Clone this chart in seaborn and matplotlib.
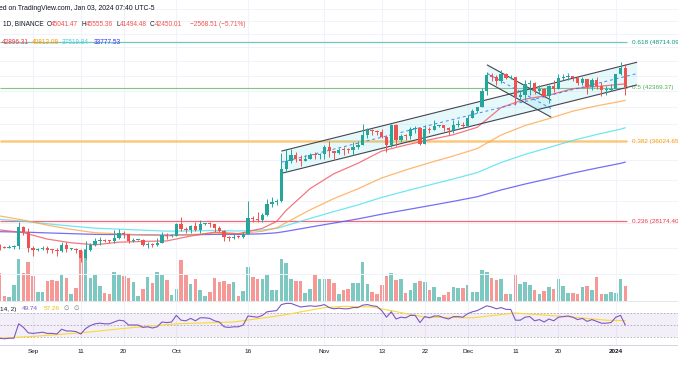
import pandas as pd
import numpy as np
import matplotlib
matplotlib.use("Agg")
import matplotlib.pyplot as plt
import matplotlib.dates as mdates
import seaborn as sns

W, H = 678, 381

# daily candles, BINANCE 1D
dates = pd.date_range("2023-08-25", "2024-01-03", freq="D")
opens = [26170, 26050, 26010, 26090, 26100, 27720, 27300,
         25940, 25800, 25870, 25970, 25820, 25790, 25750, 26240, 25900, 25900, 25840, 25160, 25840, 26230, 26530,
         26610, 26570, 26530, 26760, 27210, 27130, 26570, 26580, 26580, 26250, 26300, 26210, 26350, 27030, 26910,
         26970, 27990, 27500, 27430, 27790, 27410, 27930, 27950, 27920, 27590, 27390, 26870, 26760, 26860, 26850,
         27150, 28500, 28400, 28320, 28710, 29680, 29910, 29990, 33070, 33920, 34500, 34150, 33890, 34080, 34520, 34480,
         34640, 35420, 34940, 34720, 35080, 35050, 35040, 35420, 35620, 36700, 37310, 37130, 37060, 36490, 35550,
         37880, 36160, 36600, 36570, 37360, 37450, 35750, 37420, 37290, 37720, 37800, 37450, 37240, 37830, 37850,
         37720, 38690, 39470, 39980, 41990, 44080, 43770, 43290, 44170, 43720, 43790, 41240, 41480, 42890, 43020,
         41940, 42260, 41370, 42660, 42260, 43650, 43860, 43970, 43700, 43010, 43580, 42510, 43440, 42580, 42070, 42140,
         42280, 44180, 45041]
highs = [26290, 26100, 26180, 26250, 28140, 27760, 27580,
         26130, 25970, 26120, 26100, 25880, 26000, 26440, 26420, 25940, 26000, 25890, 26560, 26390, 26780, 26890,
         26680, 26620, 27410, 27490, 27380, 27150, 26740, 26640, 26730, 26430, 26390, 26820, 27310, 27230, 27090,
         28060, 28580, 27680, 27830, 28120, 28290, 28000, 28110, 27990, 27740, 27480, 26950, 27100, 26990, 27290,
         30000, 28610, 28970, 28930, 30210, 30350, 30200, 34740, 35200, 35130, 34830, 34490, 34480, 34770, 34850, 34720,
         35580, 35980, 34940, 35260, 35380, 35280, 35890, 35980, 37970, 37530, 37410, 37230, 37420, 36750, 37980,
         37930, 36850, 36850, 37550, 37760, 37650, 37890, 37650, 38420, 37890, 37820, 37590, 38380, 38450, 38150,
         38960, 39700, 40000, 42400, 44490, 44300, 44050, 44700, 44360, 44040, 43800, 42100, 43430, 43420, 43090,
         42720, 42430, 42760, 43480, 44280, 44240, 44400, 43990, 43950, 43800, 43600, 43680, 43800, 43120, 42600,
         42900, 44180, 45880, 45555]
lows = [25790, 25980, 25970, 25880, 25920, 27020, 25660,
        25330, 25720, 25810, 25600, 25570, 25380, 25620, 25650, 25800, 25560, 24900, 25130, 25770, 26130, 26220,
        26470, 26400, 26380, 26670, 26800, 26370, 26480, 26520, 26170, 26000, 26090, 26110, 26340, 26660, 26890,
        26950, 27350, 27160, 27210, 27360, 27170, 27840, 27690, 27260, 27300, 26560, 26540, 26700, 26810, 26800,
        27110, 28100, 28140, 28150, 28600, 29470, 29660, 29880, 32880, 33690, 33760, 33340, 33860, 34050, 34070, 34050,
        34100, 34300, 34100, 34580, 34520, 34730, 34520, 35120, 35550, 36330, 36710, 36730, 36340, 34800, 35360,
        35500, 35880, 36150, 36300, 36900, 35630, 35670, 36870, 37250, 37600, 37150, 36690, 36880, 37600, 37500,
        37630, 38650, 39290, 39980, 41420, 43340, 42820, 43080, 43580, 43550, 40220, 40680, 40870, 41420, 41660,
        41690, 41250, 40530, 41800, 42180, 43400, 43400, 43290, 42750, 42720, 41650, 42100, 42300, 41300, 41520,
        41970, 42180, 44150, 41494]
closes = [26050, 26010, 26090, 26100, 27720, 27300, 25940,
          25800, 25870, 25970, 25820, 25790, 25750, 26240, 25900, 25900, 25840, 25160, 25840, 26230, 26530, 26610,
          26570, 26530, 26760, 27210, 27130, 26570, 26580, 26580, 26250, 26300, 26210, 26350, 27030, 26910, 26970,
          27990, 27500, 27430, 27790, 27410, 27930, 27950, 27920, 27590, 27390, 26870, 26760, 26860, 26850, 27150,
          28500, 28400, 28320, 28710, 29680, 29910, 29990, 33070, 33920, 34500, 34150, 33890, 34080, 34520, 34480, 34640,
          35420, 34940, 34720, 35080, 35050, 35040, 35420, 35620, 36700, 37310, 37130, 37060, 36490, 35550, 37880,
          36160, 36600, 36570, 37360, 37450, 35750, 37420, 37290, 37720, 37800, 37450, 37240, 37830, 37850, 37720,
          38690, 39470, 39980, 41990, 44080, 43770, 43290, 44170, 43720, 43790, 41240, 41480, 42890, 43020, 41940,
          42260, 41370, 42660, 42260, 43650, 43860, 43970, 43700, 43010, 43580, 42510, 43440, 42580, 42070, 42140,
          42280, 44180, 45018, 42450]
# volume, in pane pixels
volumes = [28, 5, 4, 16, 42, 28, 39, 25, 9, 9, 20, 21, 20, 26, 23, 7, 13, 50, 52, 23, 26, 15, 8, 7, 29, 27, 25,
           23, 19, 5, 12, 24, 18, 29, 26, 21, 6, 12, 41, 26, 17, 22, 11, 5, 9, 23, 19, 20, 17, 19, 5, 10, 34, 24,
           22, 22, 26, 11, 11, 42, 38, 22, 20, 20, 8, 12, 27, 22, 22, 22, 18,
           6.7, 10.7, 11.7, 17.7, 17.7, 39, 17.3, 9.3, 7.3, 16, 25, 27.7, 20.7, 22.3, 7.7, 10.7, 17.7, 20, 19.3, 11,
           14, 4.3, 6, 9.3, 14.3, 12.7, 12.7,
           16, 9, 9, 31, 29.3, 23.3, 20.7, 21.7, 6.7, 6.7, 26, 17.3, 19, 15.7, 10.7, 7.3, 10, 14, 12.3, 21.7, 15,
           8.3, 7.7, 6.7, 14, 14.7, 11.3, 24.3, 7.3, 7.3, 8.7, 8, 21.7, 14.7]
rsi = [28, 27, 28, 28, 52, 46, 37, 36, 37, 38, 36, 36, 35, 43, 40, 40, 39, 35, 44, 49, 52, 53, 52, 52,
       55, 58, 57, 50, 50, 50, 46, 47, 45, 47, 55, 54, 55, 66, 58, 57, 61, 57, 62, 62, 61, 57, 55,
       47, 46, 47, 47, 50, 65, 64, 63, 66, 72, 73, 74, 84, 86, 86, 83, 80, 81, 82, 81, 82,
       84, 79, 77, 78, 77, 77, 79, 79, 83, 84, 82, 81, 74, 63, 72, 60, 63, 62, 66, 66,
       54, 64, 62, 65, 65, 62, 60, 64, 64, 63, 69, 72, 74, 78, 82, 80, 77, 79, 76, 76,
       58, 58, 63, 64, 57, 59, 55, 60, 57, 63, 64, 65, 63, 59, 61, 56, 59, 56, 53, 53, 54, 63, 66, 49.74]
rsi_ma_dates = pd.to_datetime(["2023-08-25", "2023-09-01", "2023-09-11", "2023-09-21", "2023-10-01", "2023-10-13",
                               "2023-10-23", "2023-11-01", "2023-11-05", "2023-11-11", "2023-11-22", "2023-12-02",
                               "2023-12-11", "2023-12-23", "2023-12-30", "2024-01-03"])
rsi_ma = [28, 31, 37, 45, 52, 55, 66, 79, 81, 80, 63, 62, 70, 63, 58, 57.26]

ma_dates = pd.to_datetime(["2023-08-25", "2023-08-30", "2023-09-04", "2023-09-09", "2023-09-14", "2023-09-19",
                           "2023-09-24", "2023-09-29", "2023-10-04", "2023-10-09", "2023-10-14", "2023-10-19",
                           "2023-10-22", "2023-10-24", "2023-10-29", "2023-11-03", "2023-11-08", "2023-11-13",
                           "2023-11-18", "2023-11-23", "2023-11-28", "2023-12-03", "2023-12-08", "2023-12-13",
                           "2023-12-18", "2023-12-23", "2023-12-28", "2024-01-02", "2024-01-03"])
ema20 = [27450, 27220, 26690, 26390, 26225, 26440, 26500, 26540, 26940, 27260, 27130, 27580, 28174, 29140, 31145,
         32600, 33650, 34940, 35580, 36160, 36730, 37570, 39910, 40950, 41450, 42280, 42560, 42850, 42896]
ema50 = [28650, 28286, 27850, 27499, 27213, 27127, 27035, 26949, 27055, 27183, 27140, 27335, 27620, 28070, 29186,
         30211, 31123, 32177, 32970, 33710, 34417, 35201, 36698, 37772, 38584, 39473, 40117, 40665, 40812]
ema100 = [28350, 28188, 27968, 27773, 27597, 27515, 27430, 27347, 27365, 27403, 27359, 27441, 27581, 27813, 28424,
          29035, 29626, 30320, 30912, 31497, 32079, 32713, 33736, 34582, 35312, 36091, 36751, 37359, 37520]
ema200 = [27300, 27268, 27200, 27137, 27078, 27061, 27040, 27017, 27042, 27077, 27071, 27127, 27208, 27333, 27686,
          28034, 28385, 28802, 29179, 29563, 29955, 30383, 31020, 31585, 32104, 32658, 33163, 33649, 33777]

fib_names = ["0.618", "0.5", "0.382", "0.236"]
fib_levels = [48714.09, 42369.37, 36024.65, 28174.40]

asc_dates = pd.to_datetime(["2023-10-23 01:30", "2024-01-05 09:00"])
asc_upper = [34940, 45830]
asc_lower = [32640, 42760]
flag_dates = pd.to_datetime(["2023-12-05 02:00", "2023-12-18 10:00"])
flag_upper = [45460, 40840]
flag_lower = [43150, 38770]

tick_dates = pd.to_datetime(["2023-09-01", "2023-09-11", "2023-09-20", "2023-10-01", "2023-10-16", "2023-11-01",
                             "2023-11-13", "2023-11-22", "2023-12-01", "2023-12-11", "2023-12-20", "2024-01-01"])
tick_labels = ["Sep", "11", "20", "Oct", "16", "Nov", "13", "22", "Dec", "11", "20", "2024"]

UP, DOWN = "#26a69a", "#ef5350"
TXT = "#131722"
FS = 4.6

sns.set_style("white")
plt.rcParams["font.family"] = ["Liberation Sans", "DejaVu Sans"]

fig = plt.figure(figsize=(W / 100, H / 100), dpi=100)
renderer = fig.canvas.get_renderer()


def fy(y):
    return 1 - y / H


ax = fig.add_axes([0, fy(301), 1, 301 / H])
axv = ax.twinx()
axr = fig.add_axes([0, fy(345), 1, 43 / H])
ax.set_zorder(2)
ax.patch.set_visible(False)
axv.set_zorder(1)

sep1 = mdates.date2num(pd.Timestamp("2023-09-01"))
x_left = sep1 - 33 / 4.777
x_right = sep1 + (W - 33) / 4.777
x = mdates.date2num(dates)
o, hi, lo, c = map(np.array, (opens, highs, lows, closes))
cols = [UP if cc >= oo else DOWN for oo, cc in zip(o, c)]

# grid
for p in range(24000, 56000, 2000):
    ax.axhline(p, color="#f0f3fa", lw=0.7, zorder=0)
for t in mdates.date2num(tick_dates):
    ax.axvline(t, color="#f0f3fa", lw=0.8, zorder=0)
    axr.axvline(t, color="#f0f3fa", lw=0.8, zorder=0)

# volume
axv.bar(x, volumes, width=0.75, color=cols, alpha=0.6, linewidth=0)
axv.set_ylim(0, 301)

# fib levels
fib_cols = ["#089981", "#4caf50", "#ff9800", "#f23645"]
fib_lw = [0.9, 0.8, 1.8, 0.9]
fib_alpha = [0.55, 0.7, 0.5, 0.75]
x_fib_end = sep1 + (627 - 33) / 4.777
x_fib_lab = sep1 + (632 - 33) / 4.777
for name, lev, fc, lw, a in zip(fib_names, fib_levels, fib_cols, fib_lw, fib_alpha):
    ax.hlines(lev, x_left, x_fib_end, color=fc, lw=lw, alpha=a, zorder=1)
    ax.text(x_fib_lab, lev, f"{name} ({lev:.2f})", color=fc, fontsize=FS, va="center", ha="left")

# channels
for d, up, lw_ in ((asc_dates, asc_upper, asc_lower), (flag_dates, flag_upper, flag_lower)):
    xd = mdates.date2num(d)
    ax.fill_between(xd, lw_, up, color="#4dd0e1", alpha=0.14, lw=0, zorder=1)
    ax.plot(xd, up, color="#434651", lw=0.8, zorder=3)
    ax.plot(xd, lw_, color="#434651", lw=0.8, zorder=3)
    mid = np.sqrt(np.array(up) * np.array(lw_))
    ax.plot(xd, mid, color="#2962ff", lw=0.7, ls=(0, (3, 3)), alpha=0.8, zorder=3)

# moving averages
ma_x = mdates.date2num(ma_dates)
for vals, colr, a in ((ema200, "#5b56f5", 0.85), (ema100, "#4de0f0", 0.8),
                      (ema50, "#ffa040", 0.75), (ema20, "#f4555f", 0.8)):
    sns.lineplot(x=ma_x, y=vals, ax=ax, color=colr, lw=0.9, alpha=a, zorder=2)

# candles
ax.vlines(x, lo, hi, colors=cols, lw=0.7, zorder=4)
body_lo = np.minimum(o, c)
body_h = np.maximum(np.abs(c - o), body_lo * 0.003)
ax.bar(x, body_h, bottom=body_lo, width=0.7, color=cols, linewidth=0, zorder=5)

ax.set_yscale("log")
ax.set_ylim(22086, 55453)
ax.set_xlim(x_left, x_right)
for a_ in (ax, axv):
    a_.set_yticks([])
    a_.minorticks_off()
    a_.set_xticks([])
    a_.set_xlabel("")
    a_.set_ylabel("")
    for s in a_.spines.values():
        s.set_visible(False)
ax.yaxis.set_minor_locator(matplotlib.ticker.NullLocator())
ax.spines["bottom"].set_visible(True)
ax.spines["bottom"].set_color("#e0e3eb")
ax.spines["bottom"].set_linewidth(0.6)

# RSI pane
axr.axhspan(30, 70, color="#7e57c2", alpha=0.09, lw=0, zorder=0)
for lv in (70, 50, 30):
    axr.axhline(lv, color="#787b86", lw=0.6, ls=(0, (2, 2)), alpha=0.6, zorder=1)
sns.lineplot(x=mdates.date2num(rsi_ma_dates), y=rsi_ma, ax=axr, color="#fdd835", lw=0.8, zorder=2)
sns.lineplot(x=x, y=rsi, ax=axr, color="#7e57c2", lw=0.8, zorder=3)
axr.set_ylim(16.7, 88.3)
axr.set_xlim(x_left, x_right)
axr.set_yticks([])
axr.set_xticks(mdates.date2num(tick_dates))
axr.set_xticklabels(tick_labels)
axr.tick_params(axis="x", length=0, pad=2.6, labelsize=FS, colors=TXT)
axr.get_xticklabels()[-1].set_fontweight("bold")
axr.set_xlabel("")
axr.set_ylabel("")
for k, s in axr.spines.items():
    s.set_visible(k == "bottom")
axr.spines["bottom"].set_color("#d1d4dc")
axr.spines["bottom"].set_linewidth(0.7)


def ftxt(px, py, s, color=TXT, size=FS):
    t = fig.text(px / W, fy(py), s, color=color, fontsize=size, va="center", ha="left")
    return px + t.get_window_extent(renderer).width


def row(py, items, size=FS, gap=3.0):
    # items: (start_x, [(text, color), ...]); pieces within a group are joined, groups never overlap
    end = -99
    for start, pieces in items:
        px = max(start, end + gap)
        for s, colr in pieces:
            px = ftxt(px, py, s, colr, size)
        end = px


ftxt(-1, 8, "ed on TradingView.com, Jan 03, 2024 07:40 UTC-5", size=4.95)
row(24, [(2.7, [("1D, BINANCE", TXT)]),
         (45, [("O", TXT), ("45041.47", DOWN)]),
         (81, [("H", TXT), ("45555.36", DOWN)]),
         (112.7, [("L", TXT), ("41494.48", DOWN)]),
         (145.7, [("C", TXT), ("42450.01", DOWN)]),
         (190, [("\u22122568.51 (\u22125.71%)", DOWN)])], size=4.7)
row(42.5, [(1.7, [("42896.31", "#f23645")]),
           (31.7, [("40812.08", "#ff9800")]),
           (59.3, [("37519.84", "#4dd0e1")]),
           (93.3, [("33777.53", "#3030ff")])], size=4.7, gap=2.5)
row(309, [(0, [("14, 2)", TXT)]),
          (21.7, [("49.74", "#7e57c2")]),
          (43.3, [("57.26", "#e6c100")]),
          (63.3, [("\u2205", "#787b86")]),
          (74, [("\u2205", "#787b86")])])

fig.savefig("out.png", dpi=100)
